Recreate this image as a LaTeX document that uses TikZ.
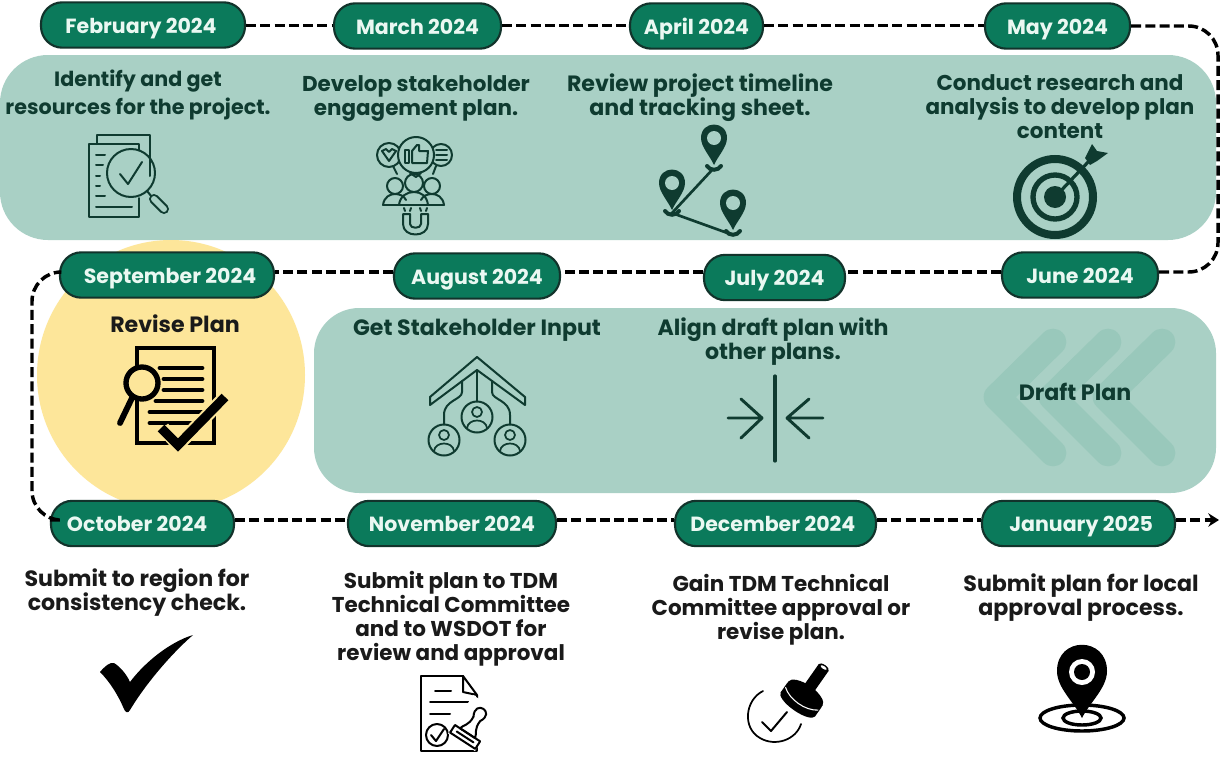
\documentclass[tikz,border=0pt]{standalone}
\usepackage{fontspec}
\setmainfont{Poppins}
\usetikzlibrary{arrows.meta,calc}
\definecolor{panelc}{HTML}{A9D0C5}
\definecolor{chevc}{HTML}{99C8BB}
\definecolor{yellowc}{HTML}{FDE69A}
\definecolor{pillc}{HTML}{0B7A5B}
\definecolor{pilld}{HTML}{12332B}
\definecolor{pillt}{HTML}{EAF8F2}
\definecolor{darkg}{HTML}{0F3B30}
\definecolor{inkc}{HTML}{1A1A1A}
\tikzset{
  pill/.style={draw=pilld,line width=1.6pt,fill=pillc,rounded corners=16pt,minimum height=34pt,inner sep=0pt,text=pillt,text height=12pt,text depth=0pt,font=\fontsize{15.4}{17}\selectfont\bfseries},
  pw/.style={minimum width=#1*0.75pt},
  link/.style={draw=black,line width=2.6pt,dash pattern=on 7.5pt off 3.2pt},
  capt/.style={align=center,inner sep=0pt,font=\fontsize{16.6}{18}\selectfont\bfseries},
  capn/.style={font=\fontsize{16.1}{18}\selectfont\bfseries},
  panelt/.style={capt,text=darkg},
  whitet/.style={capt,text=inkc},
  ic/.style={draw=darkg,line width=1.5pt,line cap=round,line join=round},
  icb/.style={draw=black,line width=1.5pt,line cap=round,line join=round},
  chev/.style={draw=chevc,line width=20pt,line cap=round,line join=round},
}
\begin{document}
\begin{tikzpicture}[x=0.75pt,y=-0.75pt]
\useasboundingbox (0,0) rectangle (1220,757);
\fill[white] (0,0) rectangle (1220,757);
% panels
\node[fill=panelc,rounded corners=36pt,minimum width=912pt,minimum height=138.75pt,inner sep=0pt] (toppanel) at (608,147.5) {};
\node[fill=panelc,rounded corners=34pt,minimum width=676.5pt,minimum height=138.75pt,inner sep=0pt] (midpanel) at (765,400.5) {};
\fill[yellowc] (171,375) ellipse [x radius=134,y radius=135];
% chevrons
\draw[chev] (1053,342) -- (997,397) -- (1053,453);
\draw[chev] (1108,342) -- (1052,397) -- (1108,453);
\draw[chev] (1162,342) -- (1106,397) -- (1162,453);
% connector rows and free ends
\coordinate (rowa) at (0,25.5);
\coordinate (rowb) at (0,272);
\coordinate (rowc) at (0,520);
\coordinate (tr) at (1218,26);
\coordinate (br) at (1218,272);
\coordinate (tl) at (32,272);
\coordinate (bl) at (32,520);
\coordinate (endpt) at (1219,520);
% pills
\node[pill,pw=204] (feb) at (143,25) {February 2024\kern3pt};
\node[pill,pw=167] (mar) at (417.5,26) {March 2024};
\node[pill,pw=133] (apr) at (696.5,26) {April 2024};
\node[pill,pw=145] (may) at (1057.5,26) {May 2024};
\node[pill,pw=156] (jun) at (1080,275) {June 2024};
\node[pill,pw=141] (jul) at (774.5,277.5) {July 2024};
\node[pill,pw=166] (aug) at (477,276) {August 2024};
\node[pill,pw=214] (sep) at (167,275) {\kern4.5pt September 2024};
\node[pill,pw=183] (oct) at (142.5,523.5) {October 2024\kern8pt};
\node[pill,pw=208] (nov) at (452,523.5) {November 2024};
\node[pill,pw=201] (dec) at (775.5,523.5) {December 2024\kern4pt};
\node[pill,pw=193] (jan) at (1078.5,523.5) {\kern4pt January 2025};
% connectors
\draw[link] (feb.east |- rowa) -- (mar.west |- rowa);
\draw[link] (mar.east |- rowa) -- (apr.west |- rowa);
\draw[link] (apr.east |- rowa) -- (may.west |- rowa);
\draw[link,rounded corners=22pt] (may.east) -- (tr) -- (br) -- (jun.east |- rowb);
\draw[link] (jun.west |- rowb) -- (jul.east |- rowb);
\draw[link] (jul.west |- rowb) -- (aug.east |- rowb);
\draw[link] (aug.west |- rowb) -- (sep.east |- rowb);
\draw[link,rounded corners=22pt] (sep.west |- rowb) -- (tl) -- (bl) -- (oct.west |- rowc);
\draw[link] (oct.east |- rowc) -- (nov.west |- rowc);
\draw[link] (nov.east |- rowc) -- (dec.west |- rowc);
\draw[link] (dec.east |- rowc) -- (jan.west |- rowc);
\draw[link,-{Stealth[length=8pt,width=10pt,inset=2.5pt]}] (jan.east |- rowc) -- (endpt);
% captions
\node[panelt,font=\fontsize{15.5}{21}\selectfont\bfseries] (t1) at (138,94.5) {Identify and get\\resources for the project.};
\node[panelt,capn] (t2) at (416,98.5) {Develop stakeholder\\engagement plan.};
\node[panelt] (t3) at (700,98) {Review project timeline\\and tracking sheet.};
\node[panelt,capn] (t4) at (1060,107) {Conduct research and\\analysis to develop plan\\content};
\node[whitet] (t5) at (175,324) {Revise Plan};
\node[panelt] (t6) at (477,330) {Get Stakeholder Input};
\node[panelt] (t7) at (773,342) {Align draft plan with\\other plans.};
\node[panelt] (t8) at (1075,392) {Draft Plan};
\node[whitet] (t9) at (137,593) {Submit to region for\\consistency check.};
\node[whitet,capn] (t10) at (451,619) {Submit plan to TDM\\Technical Committee\\and to WSDOT for\\review and approval};
\node[whitet,capn] (t11) at (781,610) {Gain TDM Technical\\Committee approval or\\revise plan.};
\node[whitet] (t12) at (1081,598) {Submit plan for local\\approval process.};
% icon: resources
\draw[ic] (97,144) -- (97,135) -- (150,135) -- (150,176);
\draw[ic] (112,217) -- (89,217) -- (89,144) -- (139,144) -- (139,150);
\draw[ic] (139,198) -- (139,217) -- (112,217);
\draw[ic] (131,173) circle [x radius=24,y radius=24];
\draw[ic] (120,174) -- (128,184) -- (142,162);
\foreach \yy/\xe in {155/105,165/103,176/100,186/100,196/105,207/132}{\draw[ic] (96,\yy) -- (\xe,\yy);}
\draw[ic] (147,191) -- (152,197);
\draw[darkg,line width=7.5pt,line cap=round] (154,199) -- (164,209);
\draw[panelc,line width=4.5pt,line cap=round] (154,199) -- (164,209);
% icon: engagement
\draw[ic] (389,155) circle [radius=12] (441,155) circle [radius=11];
\draw[ic] (393,166) -- (397,174) (436,166) -- (433,174) (410,173) -- (416,177) -- (421,173);
\draw[ic,fill=panelc] (416,155) circle [radius=18];
\draw[ic] (405,150) rectangle (409,163);
\draw[ic] (412,151) -- (417,145) -- (419,145) -- (419,151) -- (428,151) -- (427,163) -- (412,163) -- cycle;
\draw[ic] (382,151) -- (389,161) -- (396,151) -- (392,149) -- (389,152) -- (386,149) -- cycle;
\draw[ic] (436,150) -- (447,150) (436,155) -- (447,155) (436,160) -- (447,160);
\draw[ic] (395,186) circle [radius=8] (432,186) circle [radius=8];
\draw[ic] (383,205) .. controls (384,197) and (390,194) .. (395,194) .. controls (400,194) and (404,196) .. (406,200);
\draw[ic] (444,205) .. controls (443,197) and (437,194) .. (432,194) .. controls (427,194) and (423,196) .. (421,200);
\draw[ic] (414,183) circle [radius=9];
\draw[ic] (383,205) -- (444,205);
\draw[ic] (399,205) .. controls (400,196) and (407,192) .. (414,192) .. controls (421,192) and (427,196) .. (428,205);
\draw[ic] (403,214) -- (403,224) .. controls (403,238) and (428,238) .. (428,224) -- (428,214) -- (421,214) -- (421,224) .. controls (421,229) and (410,229) .. (410,224) -- (410,214) -- cycle;
\draw[ic] (404,208) -- (405,211) (411,208) -- (410,211) (420,208) -- (421,211) (427,208) -- (426,211);
% icon: pins
\foreach \px/\py in {714/138,672/183,733/203}{
  \fill[darkg] (\px-13,\py) .. controls (\px-13,\py-18) and (\px+13,\py-18) .. (\px+13,\py) .. controls (\px+13,\py+9) and (\px+4,\py+18) .. (\px,\py+27) .. controls (\px-4,\py+18) and (\px-13,\py+9) .. (\px-13,\py) -- cycle;
  \fill[panelc] (\px,\py) circle [radius=7];
  \draw[darkg,line width=3pt,line cap=round] (\px-7,\py+28) .. controls (\px-4,\py+33) and (\px+4,\py+33) .. (\px+7,\py+28);
}
\draw[darkg,line width=2pt] (712,170) -- (672,213) -- (733,235);
% icon: target
\draw[darkg,line width=6pt] (1055,197) circle [radius=38];
\draw[darkg,line width=4pt] (1055,197) circle [radius=22];
\fill[darkg] (1055,197) circle [radius=11];
\draw[darkg,line width=2.4pt] (1055,197) -- (1090,160);
\fill[darkg] (1085,158) -- (1092,144) -- (1097,151) -- (1108,153) -- (1097,161) -- (1090,165) -- cycle;
% icon: revise plan
\draw[black,line width=2.5pt] (137,348) rectangle (214,443);
\foreach \yy/\xa in {368/160,379/164,390/164,401/156,412/150,423/150}{\draw[black,line width=3.6pt,line cap=round] (\xa,\yy) -- (202,\yy);}
\draw[black,line width=4pt,fill=yellowc] (142,383) circle [radius=16];
\draw[black,line width=4.4pt,line cap=round] (132,398) -- (120,423);
\draw[yellowc,line width=10pt] (163,428) -- (178,445) -- (225,397);
\draw[black,line width=7pt] (161,428) -- (178,445) -- (225,397);
% icon: stakeholders
\draw[ic] (430,397) -- (430,405) -- (477,370) -- (525,405) -- (525,397) -- (477,357) -- cycle;
\draw[ic] (477,370) -- (477,401);
\draw[ic] (462,381) -- (462,392) .. controls (462,400) and (444,400) .. (444,415) -- (444,424);
\draw[ic] (492,381) -- (492,392) .. controls (492,400) and (510,400) .. (510,415) -- (510,424);
\foreach \cx/\cy in {477/417,444/440,510/440}{
  \draw[ic] (\cx,\cy) circle [radius=15.5];
  \draw[ic,line width=1.3pt] (\cx,\cy-5) circle [radius=5];
  \draw[ic,line width=1.3pt] (\cx-10,\cy+11) .. controls (\cx-9,\cy+1) and (\cx+9,\cy+1) .. (\cx+10,\cy+11);
}
% icon: align
\draw[darkg,line width=2.4pt,line cap=round] (775,376) -- (775,461);
\draw[darkg,line width=2.2pt,line cap=round,line join=round] (728,418) -- (762,418) (741,399) -- (762,418) -- (741,438);
\draw[darkg,line width=2.2pt,line cap=round,line join=round] (823,418) -- (787,418) (809,399) -- (787,418) -- (809,438);
% icon: check
\fill[black] (100,672) .. controls (105,666) and (110,662) .. (114,663) .. controls (119,666) and (126,673) .. (130,682) .. controls (145,662) and (170,642) .. (193,635) .. controls (170,655) and (145,685) .. (130,710) .. controls (128,714) and (125,712) .. (124,709) .. controls (118,695) and (110,682) .. (100,672) -- cycle;
% icon: document with stamp
\draw[icb] (463,676) -- (421,676) -- (421,751) -- (477,751) -- (477,740);
\draw[icb] (477,706) -- (477,695) -- (463,676) -- (463,692) -- (477,695);
\draw[icb] (435,691) -- (451,691) (430,702) -- (470,702) (430,714) -- (450,714);
\draw[icb] (437,735) circle [radius=11];
\draw[icb] (431,735) -- (436,741) -- (444,729);
\begin{scope}[shift={(467,734)},rotate=-33]
  \fill[white] (-16,-36) rectangle (16,10);
  \draw[icb] (-4,-18) .. controls (-3,-8) and (-8,-6) .. (-9,-1) -- (9,-1) .. controls (8,-6) and (3,-8) .. (4,-18);
  \draw[icb] (-4,-18) .. controls (-13,-34) and (13,-34) .. (4,-18);
  \draw[icb] (-15,-1) rectangle (15,8);
  \draw[icb] (-10,3.5) -- (10,3.5);
\end{scope}
% icon: approve stamp
\draw[black,line width=1.3pt,line cap=round] (763,691) .. controls (745,700) and (742,728) .. (760,738) .. controls (775,747) and (796,740) .. (801,724);
\draw[black,line width=1.5pt,line cap=round,line join=round] (762,722) -- (771,731) -- (787,712);
\begin{scope}[shift={(803,697)},rotate=-35]
  \fill[black] (-6,-36) rectangle (6,-10);
  \fill[black] (0,-36) ellipse [x radius=6,y radius=2.8];
  \fill[white] (0,-36) ellipse [x radius=3.5,y radius=1.4];
  \fill[black] (0,-4) ellipse [x radius=21,y radius=9];
  \fill[black] (-21,-3) rectangle (21,9);
  \fill[black] (0,9) ellipse [x radius=21,y radius=7];
  \draw[white,line width=0.8pt] (-20,2) .. controls (-10,10) and (10,10) .. (20,2);
\end{scope}
% icon: location
\draw[black,line width=2.6pt] (1082,718) ellipse [x radius=42,y radius=13];
\draw[black,line width=2.6pt] (1082,718) ellipse [x radius=19,y radius=7];
\fill[black] (1057,671) .. controls (1057,636) and (1107,636) .. (1107,671) .. controls (1107,688) and (1090,702) .. (1082,718) .. controls (1074,702) and (1057,688) .. (1057,671) -- cycle;
\fill[white] (1082,672) circle [radius=13];
\fill[black] (1082,672) circle [radius=8];
\end{tikzpicture}
\end{document}
